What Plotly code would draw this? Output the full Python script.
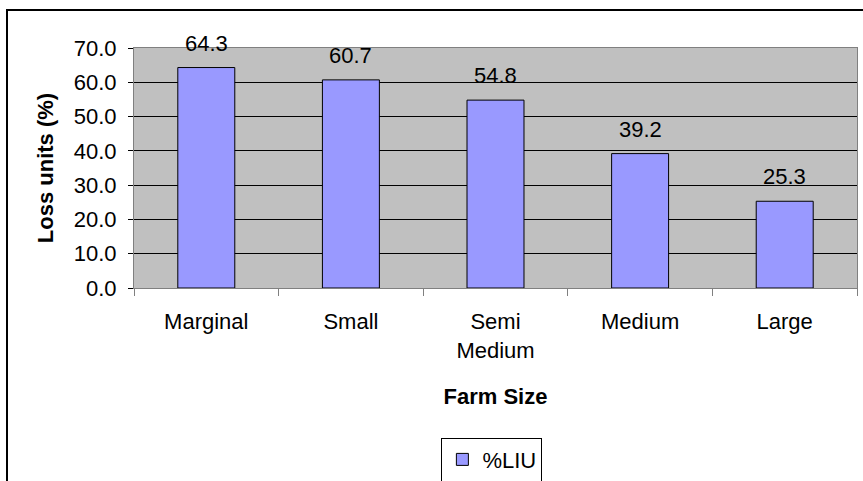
import plotly.graph_objects as go

categories = ["Marginal", "Small", "Semi<br>Medium", "Medium", "Large"]
liu_values = [64.3, 60.7, 54.8, 39.2, 25.3]
series_name = "%LIU"
y_ticks = [0, 10, 20, 30, 40, 50, 60, 70]

FONT = "Liberation Sans, Arial, sans-serif"

fig = go.Figure()
fig.add_trace(go.Bar(
    x=categories, y=liu_values, name=series_name,
    marker=dict(color="#9999FF", line=dict(color="black", width=1)),
    showlegend=True,
))

for c, v in zip(categories, liu_values):
    fig.add_annotation(x=c, y=v, text=f"{v:.1f}", showarrow=False,
                       yanchor="bottom", yshift=10,
                       font=dict(family=FONT, size=22, color="black"))

fig.update_layout(
    width=863, height=481,
    margin=dict(l=134, r=6, t=48, b=193, autoexpand=False),
    paper_bgcolor="white", plot_bgcolor="#C0C0C0",
    font=dict(family=FONT, size=22, color="black"),
    bargap=0.606,
    legend=dict(orientation="h", x=0.495, xanchor="center", y=-0.715, yanchor="middle",
                bordercolor="black", borderwidth=1, bgcolor="white",
                font=dict(family=FONT, size=22), itemwidth=30),
    shapes=[dict(type="rect", xref="paper", yref="paper",
                 x0=(7 - 134) / 723, x1=(900 - 134) / 723,
                 y0=(288 - 520) / 240, y1=(288 - 10) / 240,
                 line=dict(color="black", width=2), fillcolor="rgba(0,0,0,0)", layer="below")],
)

fig.update_xaxes(
    type="category", tickson="boundaries", ticks="outside", ticklen=7, tickcolor="#808080",
    showline=True, linecolor="#808080", linewidth=1, mirror=True,
    showgrid=False, ticklabelstandoff=14,
    title=dict(text="<b>Farm Size</b>", font=dict(family=FONT, size=22), standoff=26),
)
fig.update_yaxes(
    range=[0, 70], tickvals=y_ticks, tickformat=".1f",
    ticks="outside", ticklen=5, tickcolor="black",
    showline=True, linecolor="#808080", linewidth=1, mirror=True,
    showgrid=True, gridcolor="black", gridwidth=1, zeroline=False,
    ticklabelstandoff=7,
    title=dict(text="<b>Loss units (%)</b>", font=dict(family=FONT, size=22), standoff=14),
)

fig.write_html("out.html")
